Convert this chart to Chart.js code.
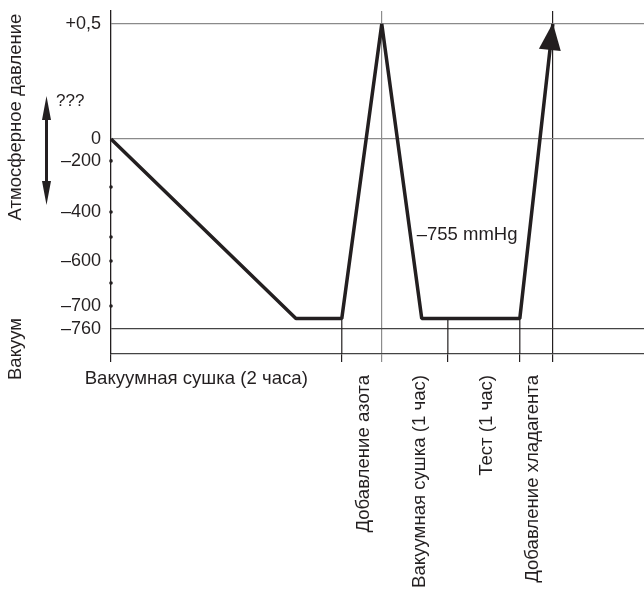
<!DOCTYPE html>
<html>
<head>
<meta charset="utf-8">
<script src="https://cdn.jsdelivr.net/npm/chart.js@4"></script>
<style>
  html, body { margin: 0; padding: 0; background: #fff; }
  #wrap { width: 644px; height: 592px; position: relative; }
</style>
</head>
<body>
<div id="wrap"><canvas id="chart"></canvas></div>
<script>
// этапы процесса
const phaseNames = ['Вакуумная сушка (2 часа)', 'Добавление азота', 'Вакуумная сушка (1 час)', 'Тест (1 час)', 'Добавление хладагента'];
// границы этапов по оси X (условные единицы)
const phaseBounds = [0, 43.3, 50.8, 63.2, 76.7, 82.9];
// где стоит подпись этапа
const phaseLabelX = [16.0, 47.5, 58.0, 70.5, 79.2];
// кривая давления, mmHg
const pressureX = [0, 34.7, 43.3, 50.8, 58.3, 76.7, 82.9];
const pressureY = [0, -755, -755, 0.5, -755, -755, 0.5];
// деления оси Y
const yTickValues = [0.5, 0, -200, -400, -600, -700, -760];
const yTickLabels = ['+0,5', '0', '–200', '–400', '–600', '–700', '–760'];
const yDotValues = [-200, -300, -400, -500, -600, -650, -700];
const vacuumLevel = -755;
const fullBounds = [0, 50.8, 82.9];

const INK = '#231f20';
const FONT = '"Liberation Sans", Arial, sans-serif';

// ось Y на схеме не линейная: значение -> доля высоты
const knots = [
    [1, 1], [0.5, 0.962], [0, 0.627], [-200, 0.563], [-300, 0.487],
    [-400, 0.414], [-500, 0.341], [-600, 0.271], [-650, 0.207],
    [-700, 0.140], [-755, 0.1035], [-760, 0.073], [-790, 0]
];

class SchematicScale extends Chart.LinearScale {
    toDecimal(v) {
        if (v >= knots[0][0]) return knots[0][1];
        for (let i = 1; i < knots.length; i++) {
            if (v >= knots[i][0]) {
                const [v0, f0] = knots[i - 1];
                const [v1, f1] = knots[i];
                return f1 + (v - v1) / (v0 - v1) * (f0 - f1);
            }
        }
        return 0;
    }
    getPixelForValue(v) {
        return v == null ? NaN : this.getPixelForDecimal(this.toDecimal(v));
    }
    getValueForPixel(p) {
        const d = this.getDecimalForPixel(p);
        for (let i = 1; i < knots.length; i++) {
            const [v0, f0] = knots[i - 1];
            const [v1, f1] = knots[i];
            if (d >= f1) return v1 + (d - f1) / (f0 - f1) * (v0 - v1);
        }
        return knots[knots.length - 1][0];
    }
}
SchematicScale.id = 'schematic';
SchematicScale.defaults = Chart.LinearScale.defaults;
Chart.register(SchematicScale);

function arrow(ctx, x, y, angle, len, half) {
    ctx.save();
    ctx.translate(x, y);
    ctx.rotate(angle);
    ctx.beginPath();
    ctx.moveTo(0, 0);
    ctx.lineTo(-len, -half);
    ctx.lineTo(-len, half);
    ctx.closePath();
    ctx.fill();
    ctx.restore();
}

function vtext(ctx, text, x, y, align) {
    ctx.save();
    ctx.translate(x, y);
    ctx.rotate(-Math.PI / 2);
    ctx.textAlign = align;
    ctx.textBaseline = 'middle';
    ctx.fillText(text, 0, 0);
    ctx.restore();
}

const diagram = {
    id: 'diagram',
    beforeDatasetsDraw(chart) {
        const { ctx, chartArea, scales: { x, y } } = chart;
        const top = y.getPixelForValue(vacuumLevel);
        ctx.save();
        ctx.strokeStyle = INK;
        ctx.lineWidth = 1.2;
        phaseBounds.filter(b => !fullBounds.includes(b)).forEach(b => {
            const px = x.getPixelForValue(b);
            ctx.beginPath();
            ctx.moveTo(px, top);
            ctx.lineTo(px, chartArea.bottom);
            ctx.stroke();
        });
        ctx.restore();
    },
    afterDatasetsDraw(chart) {
        const pts = chart.getDatasetMeta(0).data;
        const a = pts[pts.length - 2], b = pts[pts.length - 1];
        const ctx = chart.ctx;
        ctx.save();
        ctx.fillStyle = INK;
        arrow(ctx, b.x, b.y - 1, Math.atan2(b.y - a.y, b.x - a.x), 27, 11);
        ctx.restore();
    },
    afterDraw(chart) {
        const { ctx, chartArea, scales: { x, y } } = chart;
        ctx.save();
        ctx.fillStyle = INK;
        // точки на оси
        yDotValues.forEach(v => {
            ctx.beginPath();
            ctx.arc(chartArea.left, y.getPixelForValue(v), 1.8, 0, Math.PI * 2);
            ctx.fill();
        });
        // подписи оси Y
        ctx.font = '18.5px ' + FONT;
        vtext(ctx, 'Атмосферное давление', 16, 117, 'center');
        vtext(ctx, 'Вакуум', 16, 349, 'center');
        // двойная стрелка
        ctx.lineWidth = 3;
        ctx.strokeStyle = INK;
        ctx.beginPath();
        ctx.moveTo(46.5, 112);
        ctx.lineTo(46.5, 190);
        ctx.stroke();
        arrow(ctx, 46.5, 96, -Math.PI / 2, 24, 4.5);
        arrow(ctx, 46.5, 205, Math.PI / 2, 24, 4.5);
        ctx.font = '17px ' + FONT;
        ctx.textAlign = 'left';
        ctx.textBaseline = 'middle';
        ctx.fillText('???', 56, 101);
        // подпись уровня вакуума
        ctx.font = '18.5px ' + FONT;
        ctx.fillText('–755 mmHg', x.getPixelForValue(57.35), y.getPixelForValue(-490));
        // этапы
        ctx.font = '18.6px ' + FONT;
        ctx.textAlign = 'center';
        ctx.fillText(phaseNames[0], x.getPixelForValue(phaseLabelX[0]), chartArea.bottom + 25);
        for (let i = 1; i < phaseNames.length; i++) {
            vtext(ctx, phaseNames[i], x.getPixelForValue(phaseLabelX[i]), chartArea.bottom + 21, 'right');
        }
        ctx.restore();
    }
};

const config = {
    type: 'line',
    data: {
        datasets: [
            {
                data: pressureX.map((px, i) => ({ x: px, y: pressureY[i] })),
                borderColor: INK,
                borderWidth: 3.5,
                borderJoinStyle: 'bevel',
                pointRadius: 0,
                tension: 0,
                clip: false
            }
        ]
    },
    options: {
        responsive: true,
        maintainAspectRatio: false,
        animation: false,
        events: [],
        layout: { padding: { top: 11, left: 0, right: 0, bottom: 0 } },
        plugins: {
            legend: { display: false },
            tooltip: { enabled: false }
        },
        scales: {
            x: {
                type: 'linear',
                position: 'bottom',
                min: 0,
                max: 100,
                afterBuildTicks: s => { s.ticks = phaseBounds.map(v => ({ value: v })); },
                afterFit: s => {
                    s.height = 238;
                    s.paddingLeft = s.paddingRight = 0;
                },
                ticks: { display: false },
                border: { display: true, color: '#444', width: 1.3 },
                grid: {
                    lineWidth: 1.2,
                    tickLength: 8,
                    tickWidth: 1.2,
                    color: c => c.tick && c.tick.value === 50.8 ? '#8c8c8c'
                        : (c.tick && c.tick.value === 82.9 ? INK : 'rgba(0,0,0,0)'),
                    tickColor: c => c.tick && c.tick.value === 50.8 ? '#8c8c8c' : INK
                }
            },
            y: {
                type: 'schematic',
                position: 'left',
                min: -790,
                max: 1,
                afterBuildTicks: s => { s.ticks = yTickValues.map(v => ({ value: v })); },
                afterFit: s => {
                    s.width = 111;
                    s.paddingTop = s.paddingBottom = 0;
                },
                border: { display: true, color: INK, width: 1.3 },
                grid: {
                    drawTicks: false,
                    lineWidth: 1.3,
                    color: c => {
                        const v = c.tick && c.tick.value;
                        if (v === 0.5 || v === 0) return '#8a8a8a';
                        if (v === -760) return '#444';
                        return 'rgba(0,0,0,0)';
                    }
                },
                ticks: {
                    padding: 10,
                    color: INK,
                    font: { family: FONT, size: 18 },
                    callback: v => yTickLabels[yTickValues.indexOf(v)]
                }
            }
        }
    },
    plugins: [diagram]
};

const chart = new Chart(document.getElementById('chart'), config);
</script>
</body>
</html>
